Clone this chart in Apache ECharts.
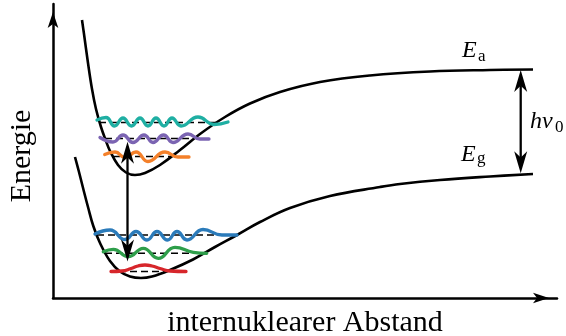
<!DOCTYPE html>
<html><head><meta charset="utf-8">
<script src="https://cdn.jsdelivr.net/npm/echarts@6/dist/echarts.min.js"></script>
<style>html,body{margin:0;padding:0;background:#fff}#c{width:566px;height:336px}</style>
</head><body><div id="c"></div>
<script>
// x: internuclear distance, y: energy (arbitrary units)
const excitedCurve = [[29,278],[31,264],[35,235],[39,209],[43,189],[48,171],[53,157],[57,147],[65,133],[73,125.5],[82,123],[92,125],[107,133],[127,148],[147,164],[172,181],[197,194.5],[227,206],[267,216],[317,222.5],[377,226.5],[437,228],[480,228.5]];
const groundCurve = [[22,141],[26,126],[30.3,109],[35,91],[40.3,72],[47,55],[57,37],[67,26.5],[77,21.5],[88,20],[99,21.5],[117,28],[140,38.5],[162,51],[184,63],[207,76],[237,90],[277,102],[327,111],[347,114],[387,118],[437,121.5],[480,124]];
// vibrational levels: [xStart, xEnd, energy]
const excitedLevels = [[60,118,141.5],[52,141,159.5],[46,164,175.5]];
const groundLevels = [[66,112,26.5],[52,150,44.7],[44,184,63]];
// vibrational wavefunctions drawn on their levels
const waveE0 = [[51.7,143.5],[62,146],[72,140.5],[83,146],[95,136.5],[112,146],[125,141],[136,141]];
const waveE1 = [[47,160.5],[60,156],[70,163],[80,155.5],[91,163],[100,155.5],[110.5,163],[120,155.5],[135,164],[147,159],[156,159]];
const waveE2 = [[44,178],[53,180.5],[61.5,172],[70,180],[78.5,172],[87,180],[95,172],[103,180],[111,172],[119,180],[128,172],[145,181],[161,173.5],[175,176]];
const waveG0 = [[58,26.5],[69,27],[78,29.5],[85,32],[92,33],[99,32],[107,29.5],[117,27],[133,26.5]];
const waveG1 = [[50.3,46.3],[60.3,48.7],[75.3,41.3],[90.3,49.7],[105.3,39.7],[122,50.7],[140.3,45.7],[153.7,44.7]];
const waveG2 = [[42,64],[57,68],[72,58.5],[83,66.5],[94,58],[104,66.5],[114.5,58],[124,66.5],[134,58],[150,68.5],[169,63],[184,63]];
// transitions: [x, yFrom, yTo] (double-headed)
const transitionArrows = [[74.5,36.5,156.3],[467.7,124.7,228]];

const xLabel = 'internuklearer Abstand';
const yLabel = 'Energie';

const serif = '"Liberation Serif","Times New Roman",serif';
const colE = ['#f4802a','#7b64b2','#1fafa3'];
const colG = ['#d7262b','#2e9e4a','#2b7bba'];

const series = [];
[excitedCurve, groundCurve].forEach(d => series.push({
  type:'line', data:d, smooth:0.4, showSymbol:false, symbol:'none', z:2,
  lineStyle:{color:'#000', width:2.6}, silent:true
}));
excitedLevels.concat(groundLevels).forEach(l => series.push({
  type:'line', data:[[l[0],l[2]],[l[1],l[2]]], showSymbol:false, symbol:'none', z:3,
  lineStyle:{color:'#000', width:1.4, type:[7,4]}, silent:true
}));
[[waveE0,colE[0]],[waveE1,colE[1]],[waveE2,colE[2]],[waveG0,colG[0]],[waveG1,colG[1]],[waveG2,colG[2]]].forEach(w => series.push({
  type:'line', data:w[0], smooth:0.5, showSymbol:false, symbol:'none', z:4,
  lineStyle:{color:w[1], width:3.3, cap:'round'}, silent:true
}));

function head(tip, from, L, W) {
  const dx = tip[0]-from[0], dy = tip[1]-from[1];
  const len = Math.hypot(dx,dy), ux = dx/len, uy = dy/len, nx = -uy, ny = ux;
  const bx = tip[0]-ux*L, by = tip[1]-uy*L;
  return {type:'polygon', shape:{points:[[tip[0],tip[1]],[bx+nx*W/2,by+ny*W/2],[tip[0]-ux*L*0.72,tip[1]-uy*L*0.72],[bx-nx*W/2,by-ny*W/2]]}, style:{fill:'#000'}};
}
series.push({
  type:'custom', z:5, silent:true, data:transitionArrows,
  renderItem:(params, api) => {
    const a = api.coord([api.value(0), api.value(1)]);
    const b = api.coord([api.value(0), api.value(2)]);
    const L = 22, W = 13;
    const dy = b[1]-a[1], s = dy/Math.abs(dy);
    return {type:'group', children:[
      {type:'line', shape:{x1:a[0], y1:a[1]+s*L*0.7, x2:b[0], y2:b[1]-s*L*0.7}, style:{stroke:'#000', lineWidth:2.3}},
      head(a, b, L, W), head(b, a, L, W)
    ]};
  }
});

function txt(t, x, y, size, italic) {
  return {type:'text', x:x, y:y, z:10, style:{text:t, fill:'#000', font:(italic?'italic ':'')+size+'px '+serif, textVerticalAlign:'middle', verticalAlign:'middle'}};
}

const chart = echarts.init(document.getElementById('c'), null, {renderer:'canvas'});
chart.setOption({
  animation:false,
  grid:{left:53, top:4, width:504, height:294, containLabel:false, outerBoundsMode:'none'},
  xAxis:{type:'value', min:0, max:504,
    axisLine:{show:true, symbol:['none','arrow'], symbolSize:[8,16], symbolOffset:[0,-8], lineStyle:{color:'#000', width:2.5}},
    axisTick:{show:false}, axisLabel:{show:false}, splitLine:{show:false},
    name:xLabel, nameLocation:'middle', nameGap:10, nameTextStyle:{fontFamily:serif, fontSize:30, color:'#000'}},
  yAxis:{type:'value', min:0, max:294,
    axisLine:{show:true, symbol:['none','arrow'], symbolSize:[8,16], symbolOffset:[0,-8], lineStyle:{color:'#000', width:2.5}},
    axisTick:{show:false}, axisLabel:{show:false}, splitLine:{show:false},
    name:yLabel, nameLocation:'middle', nameGap:16, nameRotate:90, nameTextStyle:{fontFamily:serif, fontSize:30, color:'#000', padding:[0,10,0,0]}},
  graphic:[
    txt('E', 462, 51, 24, true), txt('a', 478, 57, 17, false),
    txt('E', 461, 154.5, 24, true), txt('g', 477, 158.5, 17, false),
    txt('h\u03BD', 530, 122, 24, true), txt('0', 555, 128, 17, false)
  ],
  series:series
});
</script></body></html>
